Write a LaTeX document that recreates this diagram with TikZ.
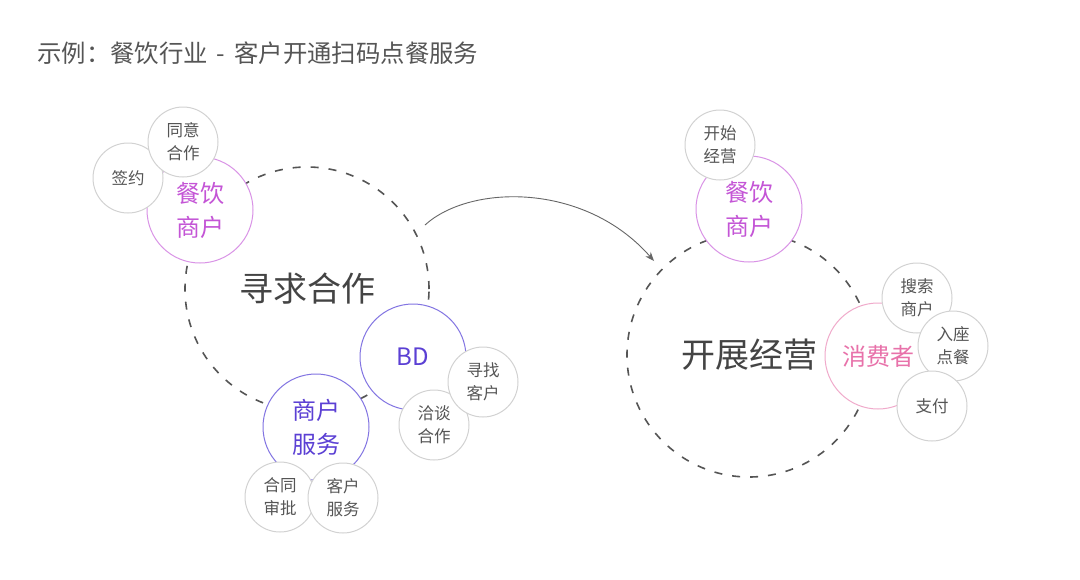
\documentclass[tikz,border=0pt]{standalone}
\usepackage{fontspec}
\setmainfont{Noto Sans CJK SC}
\usetikzlibrary{arrows.meta}
\definecolor{titlec}{HTML}{555555}
\definecolor{bigtxt}{HTML}{444444}
\definecolor{dashc}{HTML}{555555}
\definecolor{smallc}{HTML}{D2D2D2}
\definecolor{smalltxt}{HTML}{555555}
\definecolor{magtxt}{HTML}{C455D6}
\definecolor{magline}{HTML}{D993E6}
\definecolor{purtxt}{HTML}{5B40D4}
\definecolor{purline}{HTML}{8274E2}
\definecolor{pinktxt}{HTML}{E872AA}
\definecolor{pinkline}{HTML}{F0AACB}
\definecolor{arrowc}{HTML}{666666}
\tikzset{
  bigc/.style={circle, draw=dashc, dash pattern=on 8pt off 10pt, line width=1.6pt,
    minimum size=244pt, inner sep=0pt, text=bigtxt, font=\fontsize{34}{40}\selectfont},
  midc/.style={circle, fill=white, line width=1pt, minimum size=106pt, inner sep=0pt,
    align=center, font=\fontsize{24}{34}\selectfont},
  magc/.style={midc, draw=magline, text=magtxt},
  purc/.style={midc, draw=purline, text=purtxt},
  pinkc/.style={midc, draw=pinkline, text=pinktxt},
  smallcirc/.style={circle, draw=smallc, fill=white, line width=1pt, minimum size=70pt,
    inner sep=0pt, align=center, text=smalltxt, font=\fontsize{16.5}{23}\selectfont},
  flow/.style={draw=arrowc, line width=0.9pt, -{Stealth[length=9pt,width=7pt]}}
}
\begin{document}
\begin{tikzpicture}[x=1pt,y=-1pt]
\useasboundingbox (0,0) rectangle (1080,579);
\fill[white] (0,0) rectangle (1080,579);
% title
\node[anchor=west, text=titlec, font=\fontsize{24.4}{28}\selectfont, inner sep=0pt] (title) at (37,53) {示例：餐饮行业\hspace{3.5pt} - \hspace{3.5pt}客户开通扫码点餐服务};
% big dashed circles
\node[bigc] (seek) at (307,289) {寻求合作};
\node[bigc] (run) at (749,355) {开展经营};
% arrow
\coordinate (as) at (425,225);
\coordinate (ae) at (654,261);
\draw[flow] (as) .. controls (470,184) and (585,182) .. (ae);
% left group: merchant
\node[magc] (m1) at (200,210) {餐饮\\商户};
\node[smallcirc] (sign) at (128,178) {签约};
\node[smallcirc] (agree) at (183,142) {同意\\合作};
% BD
\node[purc] (bd) at (413,357) {BD};
\node[smallcirc] (nego) at (434,425) {洽谈\\合作};
\node[smallcirc] (find) at (483,382) {寻找\\客户};
% merchant service
\node[purc] (ms) at (316,427) {商户\\服务};
\node[smallcirc] (contract) at (280,497) {合同\\审批};
\node[smallcirc] (cs) at (343,498) {客户\\服务};
% right group
\node[magc] (m2) at (749,209) {餐饮\\商户};
\node[smallcirc] (start) at (720,145) {开始\\经营};
\node[pinkc] (cons) at (878,356) {消费者};
\node[smallcirc] (search) at (917,298) {搜索\\商户};
\node[smallcirc] (seat) at (953,346) {入座\\点餐};
\node[smallcirc] (pay) at (932,406) {支付};
\end{tikzpicture}
\end{document}
